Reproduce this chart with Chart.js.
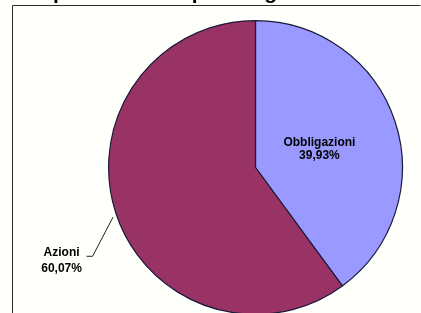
<!DOCTYPE html>
<html>
<head>
<meta charset="utf-8">
<script src="https://cdn.jsdelivr.net/npm/chart.js@4"></script>
<style>
    html, body { margin: 0; padding: 0; background: #fffffb; overflow: hidden; }
    #wrap { position: relative; width: 421px; height: 316px; }
</style>
</head>
<body>
<div id="wrap"><canvas id="pieChart"></canvas></div>
<script>
// Composizione del portafoglio
const titleText = 'Composizione del portafoglio';
const categories = ['Obbligazioni', 'Azioni'];
const shares = [39.93, 60.07];
const sliceColors = ['#9999ff', '#993366'];

const fmt = v => v.toFixed(2).replace('.', ',') + '%';

// frame + cut-off title, drawn behind the pie
const framePlugin = {
    id: 'frame',
    beforeDraw(chart) {
        const ctx = chart.ctx;
        ctx.save();
        ctx.fillStyle = '#fffffb';
        ctx.fillRect(0, 0, chart.width, chart.height);
        ctx.strokeStyle = '#2b2b2b';
        ctx.lineWidth = 1;
        ctx.beginPath();
        ctx.moveTo(420.5, 5.5);
        ctx.lineTo(12.5, 5.5);
        ctx.lineTo(12.5, chart.height);
        ctx.stroke();
        ctx.font = 'bold 21px "Liberation Sans", Arial, sans-serif';
        ctx.fillStyle = '#000';
        ctx.textBaseline = 'alphabetic';
        const x0 = 53 - ctx.measureText('Com').width;
        ctx.fillText(titleText, x0, -1.5);
        ctx.restore();
    }
};

// slice labels: one inside, one outside with a leader line
const labelPlugin = {
    id: 'sliceLabels',
    afterDatasetsDraw(chart) {
        const ctx = chart.ctx;
        const arcs = chart.getDatasetMeta(0).data;
        ctx.save();
        ctx.font = 'bold 12px "Liberation Sans", Arial, sans-serif';
        ctx.fillStyle = '#000';
        ctx.textAlign = 'center';
        ctx.textBaseline = 'middle';

        // Obbligazioni (inside)
        const a0 = arcs[0];
        const r0 = a0.outerRadius;
        const x0 = a0.x + r0 * 0.435, y0 = a0.y - r0 * 0.122;
        ctx.fillText(categories[0], x0, y0 - 6.5);
        ctx.fillText(fmt(shares[0]), x0, y0 + 6.5);

        // Azioni (outside, leader line)
        const a1 = arcs[1];
        const r1 = a1.outerRadius;
        const mid = (a1.startAngle + a1.endAngle) / 2;
        const ex = a1.x + Math.cos(mid) * (r1 + 3);
        const ey = a1.y + Math.sin(mid) * (r1 + 3) + 3;
        const lx = a1.x - r1 * 1.32, ly = a1.y + r1 * 0.635;
        ctx.strokeStyle = '#222';
        ctx.lineWidth = 1;
        ctx.beginPath();
        ctx.moveTo(lx + 25, ly - 4.5);
        ctx.lineTo(lx + 31, ly - 4.5);
        ctx.lineTo(ex, ey);
        ctx.stroke();
        ctx.fillText(categories[1], lx, ly - 8);
        ctx.fillText(fmt(shares[1]), lx, ly + 8);
        ctx.restore();
    }
};

new Chart(document.getElementById('pieChart'), {
    type: 'pie',
    data: {
        labels: categories,
        datasets: [{
            data: shares,
            backgroundColor: sliceColors,
            borderColor: '#1a1a38',
            borderWidth: 1.2
        }]
    },
    options: {
        responsive: true,
        maintainAspectRatio: false,
        animation: false,
        layout: { padding: { left: 108, right: 18, top: 20, bottom: 1 } },
        plugins: {
            legend: { display: false },
            tooltip: { enabled: false },
            title: { display: false }
        }
    },
    plugins: [framePlugin, labelPlugin]
});
</script>
</body>
</html>
